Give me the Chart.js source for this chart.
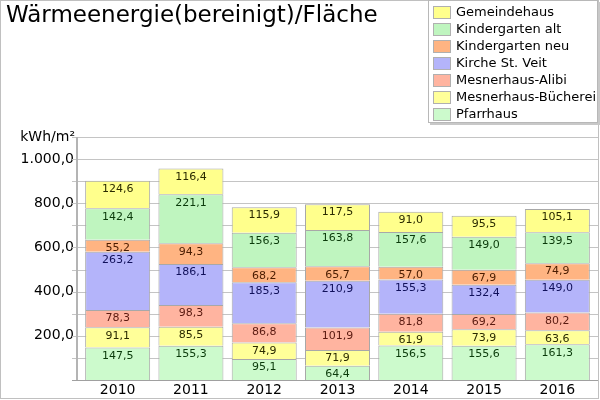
<!DOCTYPE html>
<html>
<head>
<meta charset="utf-8">
<script src="https://cdn.jsdelivr.net/npm/chart.js@4/dist/chart.umd.min.js"></script>
<style>
  html, body { margin: 0; padding: 0; background: #fff; }
  #wrap { width: 600px; height: 400px; }
</style>
</head>
<body>
<div id="wrap"><canvas id="chart" width="600" height="400"></canvas></div>
<script>
// Chart data (bottom of stack first)
const years = ['2010', '2011', '2012', '2013', '2014', '2015', '2016'];
const seriesNames = ['Pfarrhaus', 'Mesnerhaus-Bücherei', 'Mesnerhaus-Alibi', 'Kirche St. Veit',
    'Kindergarten neu', 'Kindergarten alt', 'Gemeindehaus'];
const pfarrhaus = [147.5, 155.3, 95.1, 64.4, 156.5, 155.6, 161.3];
const buecherei = [91.1, 85.5, 74.9, 71.9, 61.9, 73.9, 63.6];
const alibi = [78.3, 98.3, 86.8, 101.9, 81.8, 69.2, 80.2];
const kirche = [263.2, 186.1, 185.3, 210.9, 155.3, 132.4, 149.0];
const kgNeu = [55.2, 94.3, 68.2, 65.7, 57.0, 67.9, 74.9];
const kgAlt = [142.4, 221.1, 156.3, 163.8, 157.6, 149.0, 139.5];
const gemeindehaus = [124.6, 116.4, 115.9, 117.5, 91.0, 95.5, 105.1];
const yTicks = [200, 400, 600, 800, 1000];   // labelled ticks
const yGrid = [0, 100, 200, 300, 400, 500, 600, 700, 800, 900, 1000, 1100]; // grid lines

const seriesValues = [pfarrhaus, buecherei, alibi, kirche, kgNeu, kgAlt, gemeindehaus];
const fillColors = ['#ccfacc', '#ffff99', '#ffb4a0', '#b4b4fa', '#ffb482', '#bff5bf', '#ffff8c'];
const textColors = ['#0a3a0a', '#2a2a00', '#5a1a10', '#10105a', '#4a1c00', '#0a3a0a', '#2a2a00'];

const FONT = '"DejaVu Sans", Verdana, sans-serif';
const fmt = v => v.toLocaleString('de-DE', { minimumFractionDigits: 1, maximumFractionDigits: 1 });

// Grid lines and axis lines (drawn a bit wider than the bar area)
const axisLines = {
    id: 'axisLines',
    beforeDatasetsDraw(chart) {
        const ctx = chart.ctx;
        const y = chart.scales.y;
        const area = chart.chartArea;
        ctx.save();
        ctx.lineWidth = 1;
        ctx.strokeStyle = '#c4c4c4';
        yGrid.forEach(v => {
            const py = Math.round(y.getPixelForValue(v)) + 0.5;
            ctx.beginPath();
            ctx.moveTo(72, py);
            ctx.lineTo(598, py);
            ctx.stroke();
        });
        // y axis line
        ctx.strokeStyle = '#b4b4b4';
        ctx.lineWidth = 2;
        ctx.beginPath();
        ctx.moveTo(77, area.top);
        ctx.lineTo(77, area.bottom);
        ctx.stroke();
        // x axis line
        ctx.strokeStyle = '#a0a0a0';
        ctx.lineWidth = 1;
        ctx.beginPath();
        ctx.moveTo(72, Math.round(area.bottom) + 0.5);
        ctx.lineTo(598, Math.round(area.bottom) + 0.5);
        ctx.stroke();
        ctx.restore();
    }
};

// Labels near the top of each segment
const segmentLabels = {
    id: 'segmentLabels',
    afterDatasetsDraw(chart) {
        const ctx = chart.ctx;
        ctx.save();
        ctx.font = '11px ' + FONT;
        ctx.textAlign = 'center';
        ctx.textBaseline = 'top';
        chart.data.datasets.forEach((ds, i) => {
            chart.getDatasetMeta(i).data.forEach((bar, j) => {
                ctx.fillStyle = textColors[i];
                ctx.fillText(fmt(ds.data[j]), bar.x, bar.y + 3);
            });
        });
        ctx.restore();
    }
};

// Title, unit, legend box and frame
const decorations = {
    id: 'decorations',
    afterDraw(chart) {
        const ctx = chart.ctx;
        const area = chart.chartArea;
        ctx.save();
        // frame
        ctx.strokeStyle = '#c0c0c0';
        ctx.lineWidth = 1;
        ctx.strokeRect(0.5, 0.5, 598, 398);
        // title
        ctx.fillStyle = '#000';
        ctx.font = '23px ' + FONT;
        ctx.textAlign = 'left';
        ctx.textBaseline = 'alphabetic';
        ctx.fillText('Wärmeenergie(bereinigt)/Fläche', 6, 22);
        // unit
        ctx.font = '14px ' + FONT;
        ctx.textAlign = 'right';
        ctx.textBaseline = 'middle';
        ctx.fillText('kWh/m²', 75, 137);
        // legend box
        const lx = 428, ly = 0, lw = 170, lh = 123;
        ctx.fillStyle = '#c8c8c8';
        ctx.fillRect(lx + 2, ly + 2, lw, lh);
        ctx.fillStyle = '#fff';
        ctx.fillRect(lx, ly, lw, lh);
        ctx.strokeStyle = '#b8b8b8';
        ctx.strokeRect(lx + 0.5, ly + 0.5, lw - 1, lh - 1);
        ctx.font = '13px ' + FONT;
        ctx.textAlign = 'left';
        for (let k = 0; k < seriesNames.length; k++) {
            const idx = seriesNames.length - 1 - k;
            const cy = 12 + k * 17;
            ctx.fillStyle = fillColors[idx];
            ctx.fillRect(lx + 5, cy - 6, 18, 13);
            ctx.strokeStyle = '#b0b0b0';
            ctx.strokeRect(lx + 5.5, cy - 5.5, 17, 12);
            ctx.fillStyle = '#000';
            ctx.fillText(seriesNames[idx], lx + 28, cy + 1);
        }
        ctx.restore();
    }
};

new Chart(document.getElementById('chart'), {
    type: 'bar',
    data: {
        labels: years,
        datasets: seriesValues.map((vals, i) => ({
            label: seriesNames[i],
            data: vals,
            backgroundColor: fillColors[i],
            borderColor: '#a8a8a8',
            borderWidth: 1,
            categoryPercentage: 0.887,
            barPercentage: 1.0
        }))
    },
    options: {
        responsive: false,
        animation: false,
        devicePixelRatio: 1,
        layout: { padding: { top: 137, right: 6, left: 0, bottom: 0 } },
        plugins: {
            legend: { display: false },
            tooltip: { enabled: false }
        },
        scales: {
            x: {
                stacked: true,
                grid: { display: false, drawTicks: false },
                border: { display: false },
                ticks: { color: '#000', font: { family: FONT, size: 14 }, padding: 2 },
                afterFit: s => { s.height = 20; }
            },
            y: {
                stacked: true,
                min: 0,
                max: 1100,
                afterBuildTicks: s => {
                    s.ticks = yGrid.map(v => ({ value: v }));
                },
                grid: { display: false, drawTicks: false },
                border: { display: false },
                ticks: {
                    color: '#000',
                    font: { family: FONT, size: 14 },
                    padding: 7,
                    callback: v => yTicks.includes(v) ? fmt(v) : ''
                },
                afterFit: s => { s.width = 81; }
            }
        }
    },
    plugins: [axisLines, segmentLabels, decorations]
});
</script>
</body>
</html>
